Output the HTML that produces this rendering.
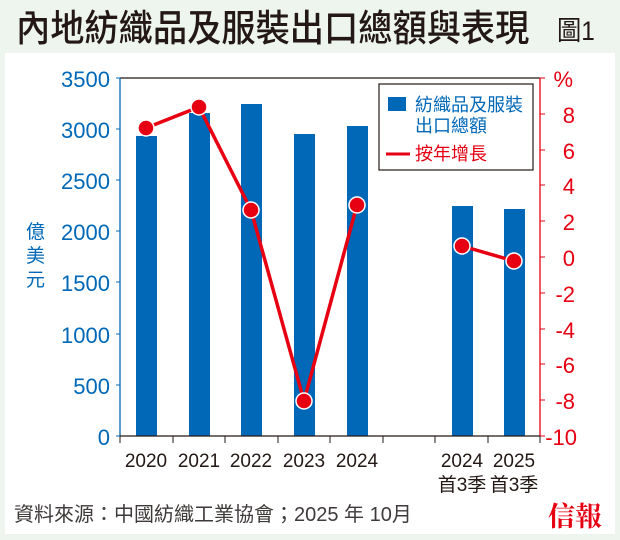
<!DOCTYPE html><html><head><meta charset="utf-8"><style>
body{margin:0;width:620px;height:540px;background:#eef5ee;font-family:"Liberation Sans","Noto Sans CJK TC",sans-serif;position:relative;overflow:hidden}
.t{position:absolute;white-space:nowrap}
</style></head><body>
<div class="t" style="left:16px;top:7px;font-size:37px;color:#231815;line-height:44px;transform:scaleX(0.925);transform-origin:0 0;font-weight:500">內地紡織品及服裝出口總額與表現</div>
<div class="t" style="left:557px;top:16px;font-size:27px;color:#231815;line-height:30px;transform:scaleX(0.9);transform-origin:0 0">圖1</div>
<div style="position:absolute;left:5px;top:53px;width:610px;height:481px;background:#fff"></div>
<svg width="620" height="540" style="position:absolute;left:0;top:0" font-family="Liberation Sans, Noto Sans CJK TC, sans-serif">
<g fill="#0068b7">
<rect x="136" y="136" width="21" height="300"/>
<rect x="189" y="113" width="21" height="323"/>
<rect x="241" y="104" width="21" height="332"/>
<rect x="294" y="134" width="21" height="302"/>
<rect x="347" y="126" width="21" height="310"/>
<rect x="452" y="206" width="21" height="230"/>
<rect x="504" y="209" width="21" height="227"/>
</g>
<line x1="120" y1="78" x2="540" y2="78" stroke="#231815" stroke-width="1.3"/>
<line x1="120" y1="78" x2="120" y2="436" stroke="#0068b7" stroke-width="1.3"/>
<line x1="540" y1="78" x2="540" y2="436" stroke="#e60012" stroke-width="1.3"/>
<line x1="120" y1="436" x2="540" y2="436" stroke="#231815" stroke-width="1.3"/>
<g stroke="#0068b7"><line x1="116" y1="78" x2="120" y2="78"/><line x1="116" y1="129" x2="120" y2="129"/><line x1="116" y1="180" x2="120" y2="180"/><line x1="116" y1="231" x2="120" y2="231"/><line x1="116" y1="282" x2="120" y2="282"/><line x1="116" y1="334" x2="120" y2="334"/><line x1="116" y1="385" x2="120" y2="385"/><line x1="116" y1="436" x2="120" y2="436"/></g>
<g stroke="#e60012"><line x1="540" y1="78" x2="545" y2="78"/><line x1="540" y1="114" x2="545" y2="114"/><line x1="540" y1="150" x2="545" y2="150"/><line x1="540" y1="185" x2="545" y2="185"/><line x1="540" y1="221" x2="545" y2="221"/><line x1="540" y1="257" x2="545" y2="257"/><line x1="540" y1="293" x2="545" y2="293"/><line x1="540" y1="329" x2="545" y2="329"/><line x1="540" y1="364" x2="545" y2="364"/><line x1="540" y1="400" x2="545" y2="400"/><line x1="540" y1="436" x2="545" y2="436"/></g>
<g stroke="#231815"><line x1="120" y1="436" x2="120" y2="443"/><line x1="173" y1="436" x2="173" y2="443"/><line x1="225" y1="436" x2="225" y2="443"/><line x1="278" y1="436" x2="278" y2="443"/><line x1="330" y1="436" x2="330" y2="443"/><line x1="383" y1="436" x2="383" y2="443"/><line x1="435" y1="436" x2="435" y2="443"/><line x1="488" y1="436" x2="488" y2="443"/><line x1="540" y1="436" x2="540" y2="443"/></g>
<g fill="#0068b7" font-size="22" text-anchor="end">
<text x="110" y="87">3500</text><text x="110" y="138">3000</text><text x="110" y="189">2500</text><text x="110" y="240">2000</text><text x="110" y="291">1500</text><text x="110" y="343">1000</text><text x="110" y="394">500</text><text x="110" y="445">0</text>
</g>
<g fill="#0068b7" font-size="19"><text x="26" y="238">億</text><text x="26" y="262">美</text><text x="26" y="286">元</text></g>
<g fill="#e60012" font-size="22" text-anchor="end">
<text x="573" y="87">%</text><text x="575" y="123">8</text><text x="575" y="159">6</text><text x="575" y="194">4</text><text x="575" y="230">2</text><text x="575" y="266">0</text><text x="575" y="302">-2</text><text x="575" y="338">-4</text><text x="575" y="373">-6</text><text x="575" y="409">-8</text><text x="577" y="445">-10</text>
</g>
<g fill="#231815" font-size="19" text-anchor="middle">
<text x="146" y="467">2020</text><text x="199" y="467">2021</text><text x="251" y="467">2022</text><text x="304" y="467">2023</text><text x="357" y="467">2024</text><text x="462" y="467">2024</text><text x="514" y="467">2025</text>
<text x="462" y="491">首3季</text><text x="514" y="491">首3季</text>
</g>
<polyline points="146,128 199,107 251,210 304,401 357,205" fill="none" stroke="#e60012" stroke-width="3.5"/>
<polyline points="462,246 514,261" fill="none" stroke="#e60012" stroke-width="3.5"/>
<g fill="#e60012" stroke="#fff" stroke-width="1.5">
<circle cx="146" cy="128" r="8"/><circle cx="199" cy="107" r="8"/><circle cx="251" cy="210" r="8"/><circle cx="304" cy="401" r="8"/><circle cx="357" cy="205" r="8"/><circle cx="462" cy="246" r="8"/><circle cx="514" cy="261" r="8"/>
</g>
<rect x="379" y="84" width="154" height="86" fill="#fff" stroke="#231815" stroke-width="1.2"/>
<rect x="388" y="97" width="18" height="14" fill="#0068b7"/>
<text x="415" y="111" font-size="18" fill="#0068b7">紡織品及服裝</text>
<text x="415" y="132" font-size="18" fill="#0068b7">出口總額</text>
<line x1="386" y1="154" x2="410" y2="154" stroke="#e60012" stroke-width="3"/>
<text x="415" y="160" font-size="18" fill="#e60012">按年增長</text>
</svg>
<div class="t" style="left:14px;top:502px;font-size:20px;color:#3e3a39;line-height:26px">資料來源：中國紡織工業協會；2025 年 10月</div>
<div class="t" style="left:548px;top:498px;font-size:27px;color:#e60012;font-weight:bold;font-family:'Noto Serif CJK SC',serif;line-height:34px">信報</div>
</body></html>
